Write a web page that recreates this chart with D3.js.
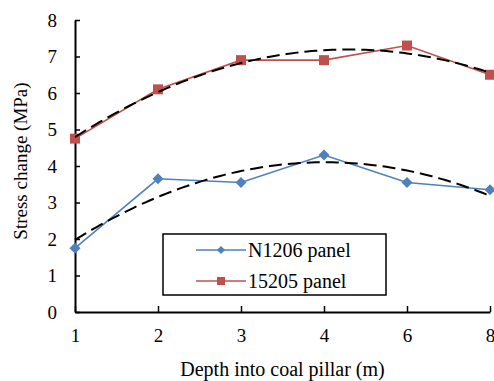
<!DOCTYPE html>
<html>
<head>
<meta charset="utf-8">
<script src="https://cdn.jsdelivr.net/npm/d3@7"></script>
<style>
  body { margin: 0; background: #fff; }
  text { font-family: "Liberation Serif", "Times New Roman", serif; fill: #000; }
</style>
</head>
<body>
<div id="chart"></div>
<script>
// chart data
var depths = ["1", "2", "3", "4", "6", "8"];
var n1206 = [1.75, 3.65, 3.55, 4.3, 3.55, 3.35];
var p15205 = [4.75, 6.1, 6.9, 6.9, 7.3, 6.5];
var yTicks = [0, 1, 2, 3, 4, 5, 6, 7, 8];

var svgWidth = 494;
var svgHeight = 381;

var margin = { top: 20, right: 4, bottom: 69, left: 75 };
var width = svgWidth - margin.left - margin.right;
var height = svgHeight - margin.top - margin.bottom;

var svg = d3.select("#chart")
    .append("svg")
    .attr("width", svgWidth)
    .attr("height", svgHeight);

var chartGroup = svg.append("g")
    .attr("transform", `translate(${margin.left}, ${margin.top})`);

// category axis, points sit on the ticks
var xScale = d3.scalePoint()
    .domain(depths)
    .range([0, 415]);

var yScale = d3.scaleLinear()
    .domain([0, 8])
    .range([height, 0]);

// fractional category index -> pixel (for trendline)
var xIndex = d3.scaleLinear()
    .domain([0, depths.length - 1])
    .range([0, 415]);

// quadratic least-squares fit (like excel's polynomial trendline)
function quadFit(ys) {
    var xs = ys.map((d, i) => i + 1);
    var s = [0, 0, 0, 0, 0], t = [0, 0, 0];
    xs.forEach(function(x, i) {
        for (var k = 0; k < 5; k++) s[k] += Math.pow(x, k);
        for (var k = 0; k < 3; k++) t[k] += Math.pow(x, k) * ys[i];
    });
    // solve 3x3 normal equations
    var m = [
        [s[0], s[1], s[2], t[0]],
        [s[1], s[2], s[3], t[1]],
        [s[2], s[3], s[4], t[2]]
    ];
    for (var i = 0; i < 3; i++) {
        for (var j = i + 1; j < 3; j++) {
            var f = m[j][i] / m[i][i];
            for (var k = i; k < 4; k++) m[j][k] -= f * m[i][k];
        }
    }
    var c = [0, 0, 0];
    for (var i = 2; i >= 0; i--) {
        var v = m[i][3];
        for (var k = i + 1; k < 3; k++) v -= m[i][k] * c[k];
        c[i] = v / m[i][i];
    }
    return function(x) { return c[0] + c[1] * x + c[2] * x * x; };
}

// axes
var bottomAxis = d3.axisBottom(xScale).tickSizeInner(-6).tickSizeOuter(0).tickPadding(17);
var leftAxis = d3.axisLeft(yScale).tickValues(yTicks).tickSizeInner(-5).tickSizeOuter(0).tickPadding(18);

var xAxis = chartGroup.append("g")
    .attr("transform", `translate(0, ${height})`)
    .call(bottomAxis);

var yAxis = chartGroup.append("g")
    .call(leftAxis);

[xAxis, yAxis].forEach(function(a) {
    a.select(".domain").attr("stroke", "#000").attr("stroke-width", 2);
    a.selectAll(".tick line").attr("stroke", "#000").attr("stroke-width", 1.5);
    a.selectAll(".tick text")
        .style("font-family", "'Liberation Serif', 'Times New Roman', serif")
        .style("font-size", "19px")
        .attr("fill", "#000");
});

// series lines
var line = d3.line()
    .x((d, i) => xScale(depths[i]))
    .y(d => yScale(d));

var series = [
    { name: "N1206 panel", values: n1206, color: "#4F81BD", marker: d3.symbolSquare, size: 61, rot: 45, legendSize: 34 },
    { name: "15205 panel", values: p15205, color: "#C0504D", marker: d3.symbolSquare, size: 100, rot: 0, legendSize: 64 }
];

series.forEach(function(s) {
    chartGroup.append("path")
        .datum(s.values)
        .attr("fill", "none")
        .attr("stroke", s.color)
        .attr("stroke-width", 1.6)
        .attr("d", line);

    chartGroup.selectAll(null)
        .data(s.values)
        .enter()
        .append("path")
        .attr("d", d3.symbol().type(s.marker).size(s.size))
        .attr("transform", (d, i) => `translate(${xScale(depths[i])}, ${yScale(d)}) rotate(${s.rot})`)
        .attr("fill", s.color);
});

// trendlines
var trendLine = d3.line()
    .x(d => xIndex(d[0] - 1))
    .y(d => yScale(d[1]));

series.forEach(function(s) {
    var f = quadFit(s.values);
    var pts = d3.range(1, depths.length + 0.001, 0.05).map(x => [x, f(x)]);
    chartGroup.append("path")
        .datum(pts)
        .attr("fill", "none")
        .attr("stroke", "#000")
        .attr("stroke-width", 2)
        .attr("stroke-dasharray", "13,6")
        .attr("d", trendLine);
});

// legend
var legend = svg.append("g")
    .attr("transform", "translate(163, 234)");

legend.append("rect")
    .attr("width", 223)
    .attr("height", 61)
    .attr("fill", "#fff")
    .attr("stroke", "#000")
    .attr("stroke-width", 1.5);

series.forEach(function(s, i) {
    var y = 16 + i * 31;
    legend.append("line")
        .attr("x1", 33).attr("x2", 83)
        .attr("y1", y).attr("y2", y)
        .attr("stroke", s.color)
        .attr("stroke-width", 1.6);
    legend.append("path")
        .attr("d", d3.symbol().type(s.marker).size(s.legendSize))
        .attr("transform", `translate(58, ${y}) rotate(${s.rot})`)
        .attr("fill", s.color);
    legend.append("text")
        .attr("x", 85)
        .attr("y", y)
        .attr("dy", "0.35em")
        .style("font-size", "20px")
        .text(s.name);
});

// axis titles
svg.append("text")
    .attr("x", margin.left + 415 / 2)
    .attr("y", 376)
    .attr("text-anchor", "middle")
    .style("font-size", "20px")
    .text("Depth into coal pillar (m)");

svg.append("text")
    .attr("transform", "rotate(-90)")
    .attr("x", -161)
    .attr("y", 27)
    .attr("text-anchor", "middle")
    .style("font-size", "19px")
    .text("Stress change (MPa)");
</script>
</body>
</html>
